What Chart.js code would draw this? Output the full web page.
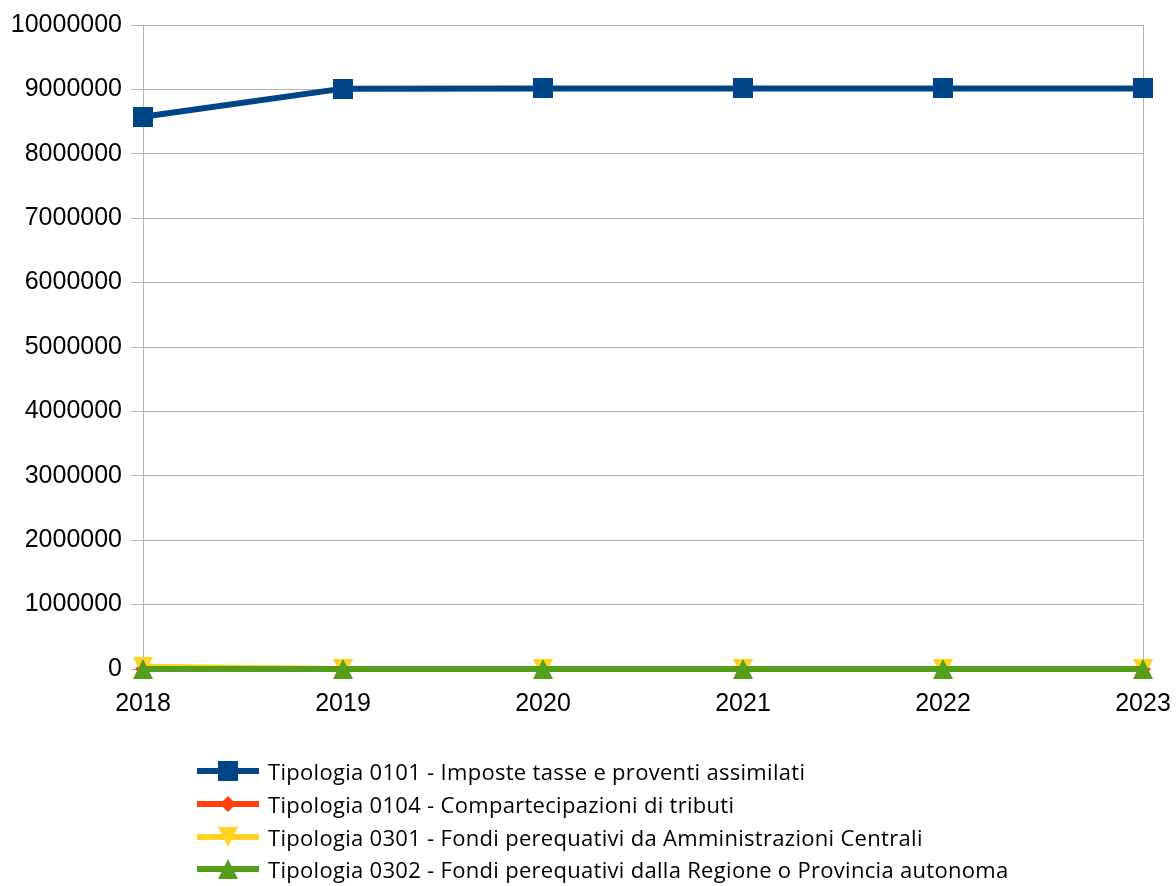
<!DOCTYPE html>
<html>
<head>
<meta charset="utf-8">
<script src="https://cdn.jsdelivr.net/npm/chart.js@4.4.1/dist/chart.umd.min.js"></script>
<style>
  body { margin: 0; background: #fff; }
  #wrap { position: relative; width: 1176px; height: 745px; }
  #legend { position: absolute; left: 197px; top: 755px; font-family: 'Open Sans', sans-serif; font-size: 22px; letter-spacing: 0.3px; color: #000; }
  .item { display: flex; align-items: center; height: 32.7px; white-space: nowrap; }
  .item canvas { margin-right: 9px; }
</style>
</head>
<body>
<div id="wrap"><canvas id="chart"></canvas></div>
<div id="legend"></div>
<script>
const years = ['2018', '2019', '2020', '2021', '2022', '2023'];
const seriesNames = [
  'Tipologia 0101 - Imposte tasse e proventi assimilati',
  'Tipologia 0104 - Compartecipazioni di tributi',
  'Tipologia 0301 - Fondi perequativi da Amministrazioni Centrali',
  'Tipologia 0302 - Fondi perequativi dalla Regione o Provincia autonoma'
];
const imposte = [8575000, 9012000, 9015000, 9015000, 9015000, 9015000];
const compartecipazioni = [0, 0, 0, 0, 0, 0];
const fondiStato = [35000, 0, 0, 0, 0, 0];
const fondiRegione = [0, 0, 0, 0, 0, 0];
const yTicks = [0, 1000000, 2000000, 3000000, 4000000, 5000000, 6000000, 7000000, 8000000, 9000000, 10000000];

const colors = ['#004586', '#ff420e', '#ffd320', '#579d1c'];

// little marker images, drawn like the office chart markers (shape fills its box)
function marker(kind, color) {
  const c = document.createElement('canvas');
  const s = kind === 'diamond' ? 16 : 20;
  c.width = s; c.height = s;
  const g = c.getContext('2d');
  g.fillStyle = color;
  g.beginPath();
  if (kind === 'square') {
    g.rect(0, 0, s, s);
  } else if (kind === 'diamond') {
    g.moveTo(s / 2, 0); g.lineTo(s, s / 2); g.lineTo(s / 2, s); g.lineTo(0, s / 2);
  } else if (kind === 'down') {
    g.moveTo(0, 0); g.lineTo(s, 0); g.lineTo(s / 2, s);
  } else {
    g.moveTo(s / 2, 0); g.lineTo(s, s); g.lineTo(0, s);
  }
  g.closePath();
  g.fill();
  return c;
}

const markers = [
  marker('square', colors[0]),
  marker('diamond', colors[1]),
  marker('down', colors[2]),
  marker('up', colors[3])
];
const values = [imposte, compartecipazioni, fondiStato, fondiRegione];

const canvas = document.getElementById('chart');
canvas.width = 1176;
canvas.height = 745;

new Chart(canvas, {
  type: 'line',
  data: {
    labels: years,
    datasets: values.map((v, i) => ({
      label: seriesNames[i],
      data: v,
      borderColor: colors[i],
      backgroundColor: colors[i],
      borderWidth: 6,
      pointStyle: markers[i],
      pointRadius: 10,
      pointHoverRadius: 10,
      tension: 0,
      clip: false,
      order: 3 - i
    }))
  },
  options: {
    responsive: false,
    animation: false,
    layout: { padding: { top: 25, right: 33, left: 0, bottom: 0 } },
    plugins: {
      legend: { display: false },
      tooltip: { enabled: false }
    },
    scales: {
      x: {
        offset: false,
        grid: {
          color: ctx => (ctx.index === 0 || ctx.index === years.length - 1) ? '#b3b3b3' : 'rgba(0,0,0,0)',
          drawTicks: false,
          lineWidth: 1
        },
        border: { display: false },
        ticks: {
          color: '#000',
          padding: 20,
          maxRotation: 0,
          font: { family: 'Liberation Sans', size: 25 }
        },
        afterFit: s => { s.height = 76; s.paddingLeft = 0; s.paddingRight = 0; }
      },
      y: {
        min: 0,
        max: 10000000,
        afterBuildTicks: s => { s.ticks = yTicks.map(v => ({ value: v })); },
        grid: { color: '#b3b3b3', lineWidth: 1, tickLength: 12 },
        border: { display: false },
        ticks: {
          color: '#000',
          padding: 9,
          font: { family: 'Liberation Sans', size: 25 },
          callback: v => String(v)
        },
        afterFit: s => { s.width = 143; s.paddingTop = 0; s.paddingBottom = 0; }
      }
    }
  }
});

// legend below the plot, one row per series
const legend = document.getElementById('legend');
seriesNames.forEach((name, i) => {
  const row = document.createElement('div');
  row.className = 'item';
  const sample = document.createElement('canvas');
  sample.width = 62; sample.height = 24;
  const g = sample.getContext('2d');
  g.strokeStyle = colors[i];
  g.lineWidth = 6;
  g.beginPath(); g.moveTo(0, 12); g.lineTo(62, 12); g.stroke();
  const m = markers[i];
  g.drawImage(m, 31 - m.width / 2, 12 - m.height / 2);
  const label = document.createElement('span');
  label.textContent = name;
  row.appendChild(sample);
  row.appendChild(label);
  legend.appendChild(row);
});
</script>
</body>
</html>
